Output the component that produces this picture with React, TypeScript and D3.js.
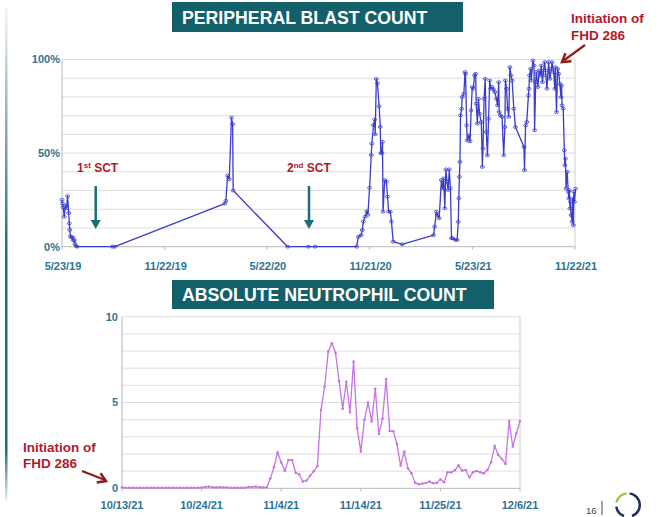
import React from 'react';
import * as d3 from 'd3';

// ---------- Peripheral blast count (top chart) ----------
const blastStart = new Date(2019, 4, 23);
const blastEnd = new Date(2021, 10, 22);
// days since 5/23/19
const blastDays = [
  0, 1, 2, 4, 6, 8, 10, 12, 13, 14, 15, 17, 19, 20, 22, 23, 25, 27, 90, 94,
  290, 292, 295, 298, 302, 304, 305, 402, 439, 451, 525, 528, 533, 535, 537, 540,
  543, 545, 548, 551, 552, 555, 557, 558, 560, 562, 565, 567, 568, 570, 571, 572,
  575, 578, 580, 582, 585, 587, 590, 606, 662, 664, 667, 669, 672, 676, 678, 680,
  682, 684, 686, 688, 690, 692, 694, 696, 701, 704, 706, 707, 708, 709, 710, 712,
  713, 716, 718, 719, 721, 722, 725, 727, 729, 731, 733, 735, 737, 738, 740, 742,
  744, 747, 749, 750, 752, 754, 756, 758, 760, 762, 764, 766, 769, 771, 774, 776,
  778, 779, 781, 784, 787, 789, 790, 792, 794, 796, 798, 800, 802, 805, 808, 823,
  824, 826, 828, 831, 832, 833, 835, 836, 839, 841, 842, 844, 845, 848, 850, 852,
  854, 856, 858, 860, 862, 864, 866, 867, 869, 872, 873, 876, 878, 879, 881, 883,
  885, 887, 889, 890, 891, 893, 895, 896, 897, 898, 900, 902, 903, 904, 905, 906,
  907, 909, 910, 911, 912, 913, 915,
];
const blastValues = [
  25, 23, 21, 16, 22, 20.5, 27, 18, 12.5, 9, 5.5, 5, 5, 3.5, 3.5, 1.5, 0.3, 0, 0, 0,
  23, 24.5, 38, 36, 69, 65.5, 30, 0, 0, 0, 0, 5.3, 6.2, 8.9, 13.4, 16,
  19, 17, 31.5, 49, 55, 65, 68, 60, 89.6, 87.3, 75, 64, 50, 50, 56, 18.7,
  35.6, 34.7, 26.7, 18.7, 18.7, 13.4, 2.7, 1.3, 6.2, 10.7, 18.7, 17, 15.2, 35.6, 31.2, 36.5,
  20.5, 41.3, 34.7, 30.3, 41.3, 31.2, 4.5, 4.5, 3.6, 3.6, 13.3, 25.8, 37.3, 45.3, 70.2, 73.7,
  80, 81.7, 93.3, 92.4, 64.8, 56.8, 59.5, 56.3, 72.8, 85.3, 84.4, 91.5, 92.4, 76.4, 65.7, 79,
  71, 66.6, 42.6, 52.4, 79, 89.7, 61.3, 48.8, 68.4, 88.8, 84.4, 85.3, 84, 82.6, 79, 75.5,
  87.9, 71.9, 70.2, 69.3, 48.8, 63.9, 88.8, 84.4, 73.7, 69.3, 95.9, 91.5, 88.8, 73.7, 63.9, 53.3,
  40.9, 64.8, 66.6, 80.8, 84.4, 91.5, 95, 88.8, 99.5, 96.8, 62.2, 87.9, 93.3, 85.3, 94.1, 91.5,
  96.8, 87.9, 94.1, 98.6, 91.5, 84.4, 94.1, 98.6, 89.7, 95, 98.6, 93.3, 84.4, 95.9, 71.9, 95,
  92.4, 87, 79.9, 86.1, 75.5, 73.7, 51.5, 43.5, 47.1, 31.1, 40, 29.3, 25.8, 30.2, 20.4, 24,
  16.9, 13.3, 25.8, 11.5, 29.3, 24, 31,
];
const blastTickDates = [
  new Date(2019, 4, 23), new Date(2019, 10, 22), new Date(2020, 4, 22),
  new Date(2020, 10, 21), new Date(2021, 4, 23), new Date(2021, 10, 22),
];
const blastTickLabels = ['5/23/19', '11/22/19', '5/22/20', '11/21/20', '5/23/21', '11/22/21'];
const blastYTicks = [0, 50, 100];
const blastYLabels = ['0%', '50%', '100%'];
const blastGrid = [0, 10, 20, 30, 40, 50, 60, 70, 80, 90, 100];

// ---------- Absolute neutrophil count (bottom chart) ----------
const ancValues = [
  0.05, 0.03, 0.03, 0.03, 0.03, 0.03, 0.03, 0.03, 0.03, 0.03,
  0.03, 0.03, 0.03, 0.03, 0.03, 0.03, 0.03, 0.03, 0.03, 0.03,
  0.03, 0.03, 0.05, 0.08, 0.1, 0.06, 0.05, 0.06, 0.05, 0.05,
  0.03, 0.03, 0.03, 0.03, 0.03, 0.08, 0.08, 0.1, 0.06, 0.05,
  0.05,
  0.58, 1.22, 2.1, 1.5, 1.03, 1.65, 1.65, 0.91, 0.8, 0.39, 0.45, 0.74, 0.99, 1.3,
  4.56, 5.92, 7.96, 8.45, 7.9, 6.25, 4.64, 6.21, 4.43, 7.38, 3.5, 2.14, 3.98, 5.0, 3.9, 5.8,
  3.16, 4.06, 6.37, 3.34, 3.32, 2.58, 1.32, 2.14, 1.17, 0.87, 0.33, 0.23, 0.27, 0.31, 0.39,
  0.29, 0.31, 0.52, 0.35, 0.93, 0.93, 1.05, 1.34, 1.03, 1.07, 0.64, 0.93, 1.01, 0.93, 0.87,
  1.07, 1.52, 2.47, 1.94, 1.71, 1.42, 3.92, 2.43, 3.2, 3.92,
];
const ancTickIndex = [0, 22, 44, 66, 88, 110];
const ancTickLabels = ['10/13/21', '10/24/21', '11/4/21', '11/14/21', '11/25/21', '12/6/21'];
const ancYTicks = [0, 5, 10];
const ancGrid = [0, 1, 2, 3, 4, 5, 6, 7, 8, 9, 10];

const FONT = '"Liberation Sans", Arial, sans-serif';
const TEAL_TEXT = '#2b7396';
const RED = '#b3192a';
const BLUE = '#3a3dcc';
const VIOLET = '#c674e2';
const BOX = '#13606a';

function arrowHead(x1: number, y1: number, x2: number, y2: number, len: number, half: number) {
  const a = Math.atan2(y2 - y1, x2 - x1);
  const bx = x2 - len * Math.cos(a);
  const by = y2 - len * Math.sin(a);
  const px = -Math.sin(a) * half;
  const py = Math.cos(a) * half;
  return `${bx + px},${by + py} ${x2},${y2} ${bx - px},${by - py}`;
}

export default function App() {
  // top scales
  const xT = d3.scaleTime().domain([blastStart, blastEnd]).range([62, 575]);
  const yT = d3.scaleLinear().domain([0, 100]).range([246.7, 59.5]);
  const blastPts = blastDays.map((d, i) => [xT(d3.timeDay.offset(blastStart, d)), yT(blastValues[i])] as [number, number]);
  const blastLine = d3.line()(blastPts) || '';

  // bottom scales
  const xB = d3.scaleLinear().domain([0, ancValues.length - 1]).range([122, 520]);
  const yB = d3.scaleLinear().domain([0, 10]).range([488.3, 316.7]);
  const ancPts = ancValues.map((v, i) => [xB(i), yB(v)] as [number, number]);
  const ancLine = d3.line()(ancPts) || '';

  const arc = d3.arc();
  const logoArcs = [
    { s: -78, e: -8, c: '#8cc63f' },
    { s: 8, e: 160, c: '#1f2d5a' },
    { s: 200, e: 262, c: '#1f2d5a' },
  ];

  return (
    <div style={{ position: 'absolute', left: 0, top: 0 }}>
      <svg width={663} height={517} style={{ display: 'block', background: '#fff', fontFamily: FONT }}>
        <defs>
          <linearGradient id="sidebar" x1="0" y1="0" x2="0" y2="1">
            <stop offset="0" stopColor="#d8e2e4" stopOpacity={0.4} />
            <stop offset="0.15" stopColor="#a9c6ca" />
            <stop offset="0.5" stopColor="#1d6b77" />
            <stop offset="0.9" stopColor="#1d6b77" />
            <stop offset="1" stopColor="#1d6b77" stopOpacity={0.1} />
          </linearGradient>
        </defs>
        <rect x={5} y={8} width={2.5} height={492} fill="url(#sidebar)" />

        {/* ---------- top chart ---------- */}
        <rect x={172} y={2} width={291} height={30} fill={BOX} />
        <text x={182} y={24} fill="#fff" fontSize={17.7} fontWeight="bold">PERIPHERAL BLAST COUNT</text>

        {blastGrid.map((g) => (
          <line key={'tg' + g} x1={62} x2={575} y1={yT(g)} y2={yT(g)} stroke={g === 0 ? '#b8b8b8' : '#dedede'} strokeWidth={1} />
        ))}
        <line x1={62} x2={62} y1={yT(100)} y2={yT(0)} stroke="#b8b8b8" />
        <line x1={575} x2={575} y1={yT(100)} y2={yT(0)} stroke="#cfcfcf" />
        {blastTickDates.map((d, i) => (
          <g key={'tt' + i}>
            <line x1={xT(d)} x2={xT(d)} y1={yT(0)} y2={yT(0) + 3} stroke="#b8b8b8" />
            <text x={xT(d) + 1} y={270} textAnchor="middle" fill={TEAL_TEXT} fontSize={11} fontWeight="bold">{blastTickLabels[i]}</text>
          </g>
        ))}
        {blastYTicks.map((t, i) => (
          <text key={'ty' + t} x={60} y={yT(t)} dy="0.35em" textAnchor="end" fill={TEAL_TEXT} fontSize={11} fontWeight="bold">{blastYLabels[i]}</text>
        ))}
        <path d={blastLine} fill="none" stroke={BLUE} strokeWidth={1.3} strokeLinejoin="round" />
        {blastPts.map((p, i) => (
          <ellipse key={'bp' + i} cx={p[0]} cy={p[1]} rx={2} ry={1.4} fill="none" stroke={BLUE} strokeWidth={0.8} />
        ))}

        {/* SCT annotations */}
        <text x={77} y={172} fill={RED} fontSize={12} fontWeight="bold">1<tspan fontSize={8} dy={-4}>st</tspan><tspan dy={4}> SCT</tspan></text>
        <line x1={95.7} x2={95.7} y1={186} y2={221} stroke="#1c6d7b" strokeWidth={2.5} />
        <polygon points={arrowHead(95.7, 186, 95.7, 229, 9, 5)} fill="#1c6d7b" />
        <text x={287} y={172} fill={RED} fontSize={12} fontWeight="bold">2<tspan fontSize={8} dy={-4}>nd</tspan><tspan dy={4}> SCT</tspan></text>
        <line x1={309} x2={309} y1={186} y2={221} stroke="#1c6d7b" strokeWidth={2.5} />
        <polygon points={arrowHead(309, 186, 309, 229, 9, 5)} fill="#1c6d7b" />

        {/* initiation annotation (top) */}
        <text x={571} y={23} fill={RED} fontSize={13.5} fontWeight="bold">Initiation of</text>
        <text x={571} y={40} fill={RED} fontSize={13.5} fontWeight="bold">FHD 286</text>
        <line x1={585} y1={45} x2={563} y2={61} stroke="#8e1c1f" strokeWidth={2.2} />
        <polyline points={arrowHead(585, 45, 562, 62, 8, 5)} fill="none" stroke="#8e1c1f" strokeWidth={2.5} />

        {/* ---------- bottom chart ---------- */}
        <rect x={172} y={280} width={322} height={29} fill={BOX} />
        <text x={182} y={301} fill="#fff" fontSize={17.7} fontWeight="bold">ABSOLUTE NEUTROPHIL COUNT</text>

        {ancGrid.map((g) => (
          <line key={'bg' + g} x1={122} x2={520} y1={yB(g)} y2={yB(g)} stroke={g === 0 ? '#b8b8b8' : '#dedede'} strokeWidth={1} />
        ))}
        <line x1={122} x2={122} y1={yB(10)} y2={yB(0)} stroke="#b8b8b8" />
        <line x1={520} x2={520} y1={yB(10)} y2={yB(0)} stroke="#cfcfcf" />
        {ancTickIndex.map((t, i) => (
          <g key={'bt' + i}>
            <line x1={xB(t)} x2={xB(t)} y1={yB(0)} y2={yB(0) + 3} stroke="#b8b8b8" />
            <text x={xB(t)} y={509} textAnchor="middle" fill={TEAL_TEXT} fontSize={11} fontWeight="bold">{ancTickLabels[i]}</text>
          </g>
        ))}
        {ancYTicks.map((t) => (
          <text key={'by' + t} x={118} y={yB(t)} dy="0.35em" textAnchor="end" fill={TEAL_TEXT} fontSize={11} fontWeight="bold">{String(t)}</text>
        ))}
        <path d={ancLine} fill="none" stroke={VIOLET} strokeWidth={1.3} strokeLinejoin="round" />
        {ancPts.map((p, i) => (
          <circle key={'ap' + i} cx={p[0]} cy={p[1]} r={1.3} fill={VIOLET} />
        ))}

        {/* initiation annotation (bottom) */}
        <text x={23} y={452} fill={RED} fontSize={13.5} fontWeight="bold">Initiation of</text>
        <text x={23} y={468} fill={RED} fontSize={13.5} fontWeight="bold">FHD 286</text>
        <line x1={82} y1={471} x2={105} y2={480} stroke="#8e1c1f" strokeWidth={2.2} />
        <polyline points={arrowHead(82, 471, 106, 481, 8, 5)} fill="none" stroke="#8e1c1f" strokeWidth={2.5} />

        {/* footer */}
        <text x={586} y={514} fill="#444" fontSize={9.5}>16</text>
        <line x1={602} x2={602} y1={501} y2={515} stroke="#444" strokeWidth={1} />
        <g transform="translate(628,505)">
          {logoArcs.map((a, i) => (
            <path key={'lg' + i} d={arc({ innerRadius: 10.5, outerRadius: 13, startAngle: (a.s * Math.PI) / 180, endAngle: (a.e * Math.PI) / 180 }) || ''} fill={a.c} />
          ))}
        </g>
      </svg>
    </div>
  );
}
